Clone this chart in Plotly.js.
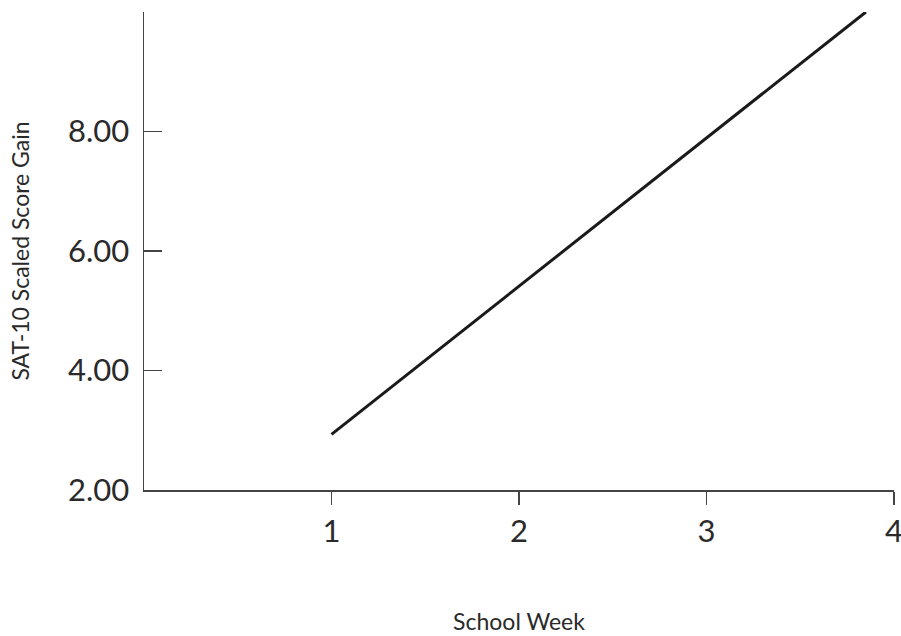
<!DOCTYPE html>
<html><head><meta charset="utf-8">
<script src="https://cdn.plot.ly/plotly-3.0.1.min.js"></script>
<style>html,body{margin:0;padding:0;background:#fff}#chart{width:901px;height:636px}</style>
</head><body><div id="chart"></div>
<script>
const weeks = [1, 3.85];
const scoreGain = [2.93, 10.0];
const xTickVals = [1, 2, 3, 4];
const xTickText = ['1', '2', '3', '4'];
const yTickVals = [2, 4, 6, 8];
const yTickText = ['2.00', '4.00', '6.00', '8.00'];

const trace = {
  x: weeks, y: scoreGain, type: 'scatter', mode: 'lines',
  line: {color: '#1a1a1a', width: 3}, hoverinfo: 'none', cliponaxis: false
};
const layout = {
  width: 901, height: 636,
  margin: {l: 144, r: 7, t: 12, b: 146},
  paper_bgcolor: '#fff', plot_bgcolor: '#fff',
  font: {family: 'Lato, "Open Sans", sans-serif', color: '#2a2a2a'},
  showlegend: false,
  xaxis: {
    range: [0, 4], tickvals: xTickVals, ticktext: xTickText,
    ticks: 'outside', ticklen: 13, tickwidth: 1.5, tickcolor: '#444',
    showline: true, linecolor: '#444', linewidth: 1.5, showgrid: false, zeroline: false,
    tickfont: {size: 31, color: '#2a2a2a'}, ticklabelstandoff: 0, ticklabeloverflow: 'allow',
    title: {text: 'School Week', font: {size: 23, color: '#2a2a2a'}, standoff: 66}
  },
  yaxis: {
    range: [2, 10], tickvals: yTickVals, ticktext: yTickText,
    ticks: 'inside', ticklen: 18, tickwidth: 1.5, tickcolor: '#444',
    showline: true, linecolor: '#444', linewidth: 1.5, showgrid: false, zeroline: false,
    tickfont: {size: 31, color: '#2a2a2a'}, ticklabelstandoff: 7, ticklabeloverflow: 'allow',
    title: {text: 'SAT-10 Scaled Score Gain', font: {size: 23, color: '#2a2a2a'}, standoff: 32}
  }
};
Plotly.newPlot('chart', [trace], layout, {displayModeBar: false, staticPlot: true});
</script></body></html>
